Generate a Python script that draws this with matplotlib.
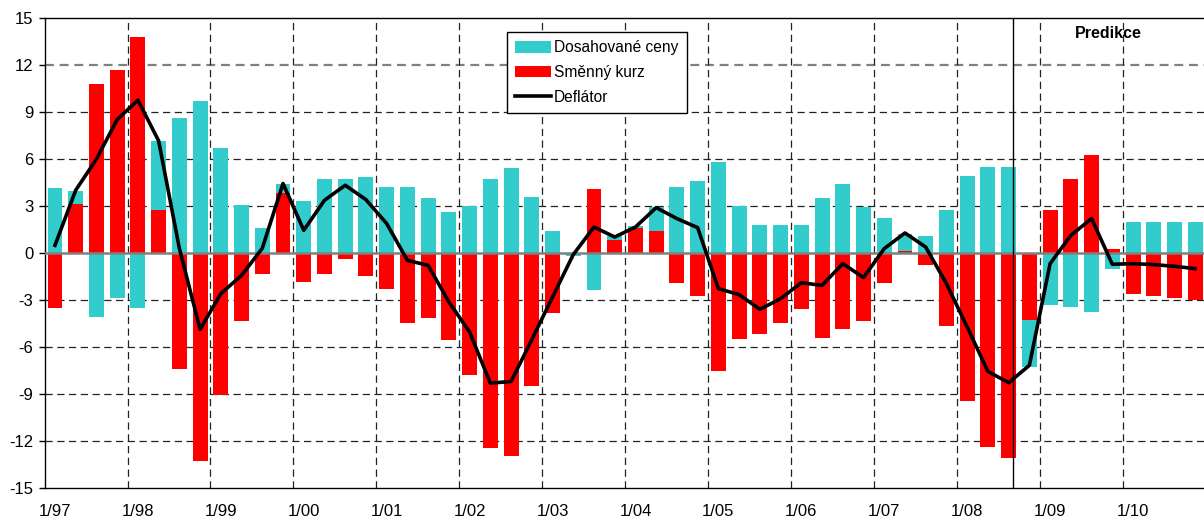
import matplotlib
matplotlib.use("Agg")
import matplotlib.pyplot as plt
import numpy as np

plt.rcParams['font.family'] = ['Liberation Sans', 'DejaVu Sans']
plt.rcParams['axes.unicode_minus'] = False

# quarterly contributions 1/97 .. 4/10
dosahovane = [4.14, 0.81, -4.09, -2.88, -3.52, 4.42, 8.62, 9.71,
              6.70, 3.05, 1.58, 0.57, 3.31, 4.72, 4.72, 4.84,
              4.20, 4.20, 3.50, 2.60, 2.99, 4.72, 5.42, 3.56,
              1.39, -0.19, -2.37, 0.23, 0.15, 1.53, 4.20, 4.59,
              5.80, 2.99, 1.77, 1.77, 1.77, 3.50, 4.39, 2.92,
              2.22, 1.11, 1.07, 2.73, 4.91, 5.48, 5.48, -3.02,
              -3.33, -3.45, -3.77, -1.02, 1.96, 1.96, 1.96, 1.96]
smenny_kurz = [-3.52, 3.14, 10.79, 11.69, 13.80, 2.73, -7.42, -13.31,
               -9.08, -4.35, -1.34, 3.84, -1.86, -1.36, -0.40, -1.47,
               -2.30, -4.48, -4.16, -5.57, -7.82, -12.47, -12.99, -8.51,
               -3.84, 0.0, 4.08, 0.86, 1.58, 1.41, -1.92, -2.75,
               -7.55, -5.52, -5.18, -4.48, -3.58, -5.46, -4.88, -4.35,
               -1.92, 0.13, -0.77, -4.69, -9.49, -12.43, -13.07, -4.29,
               2.73, 4.72, 6.25, 0.24, -2.62, -2.75, -2.88, -3.01]
deflator = [0.49, 4.01, 6.0, 8.53, 9.77, 7.17, 0.3, -4.88,
            -2.6, -1.43, 0.3, 4.44, 1.45, 3.37, 4.33, 3.41,
            1.88, -0.47, -0.79, -3.13, -5.05, -8.32, -8.21, -5.54,
            -2.81, -0.1, 1.66, 1.02, 1.66, 2.9, 2.2, 1.62,
            -2.28, -2.66, -3.6, -2.92, -1.9, -2.07, -0.68, -1.57,
            0.28, 1.28, 0.38, -1.96, -4.73, -7.57, -8.29, -7.18,
            -0.68, 1.13, 2.2, -0.72, -0.68, -0.74, -0.85, -1.0]
years = ['97', '98', '99', '00', '01', '02', '03', '04', '05', '06', '07', '08', '09', '10']
tick_labels = ['1/' + y for y in years]

cyan = '#33CCCC'
red = '#FF0000'

x = np.arange(len(deflator))
dc = np.array(dosahovane)
sk = np.array(smenny_kurz)

fig = plt.figure(figsize=(12.04, 5.2), dpi=100)
ax = fig.add_axes([44.6 / 1204, 32.3 / 520, 1161 / 1204, 469.4 / 520])

# red at the base, cyan stacked on top (same sign)
cyan_bottom = np.where(np.sign(dc) == np.sign(sk), sk, 0)
b_red = ax.bar(x, sk, width=0.72, color=red, zorder=2)
b_cyan = ax.bar(x, dc, width=0.72, bottom=cyan_bottom, color=cyan, zorder=2)
ln, = ax.plot(x, deflator, color='black', lw=2.6, zorder=4)

ax.set_xlim(-0.5, len(deflator) - 0.5)
ax.set_ylim(-15, 15)

dash = (0, (5.8, 3.6))
for yv in range(-12, 13, 3):
    if yv == 0:
        continue
    if yv == 12:
        ax.axhline(yv, color='#808080', lw=1.6, ls=(0, (4.0, 2.6)), zorder=1)
    else:
        ax.axhline(yv, color='#222222', lw=0.9, ls=dash, zorder=1)
for k in range(1, len(years)):
    ax.axvline(4 * k - 0.5, color='#222222', lw=0.9, ls=dash, zorder=1)
ax.axhline(0, color='#808080', lw=1.8, zorder=3)

# prediction boundary
ax.axvline(46.2, color='black', lw=1.0, zorder=5)
ax.text(50.8, 14.0, 'Predikce', fontsize=11.5, fontweight='bold', ha='center', va='center')

ax.set_yticks(range(-15, 16, 3))
ax.set_xticks(x[::4])
ax.set_xticklabels(tick_labels)
ax.tick_params(axis='y', labelsize=12, length=4, width=1, pad=4, direction='out')
ax.tick_params(axis='x', labelsize=12, length=0, pad=12)
for s in ['left', 'bottom', 'top']:
    ax.spines[s].set_color('black')
    ax.spines[s].set_linewidth(1.0)
ax.spines['right'].set_visible(False)

leg = ax.legend([b_cyan, b_red, ln], ['Dosahované ceny', 'Směnný kurz', 'Deflátor'],
                loc='upper left', bbox_to_anchor=(506.7 / 1204, 1 - 31.7 / 520),
                bbox_transform=fig.transFigure, borderaxespad=0, fontsize=11.2,
                frameon=True, fancybox=False, edgecolor='black', framealpha=1,
                handlelength=2.3, handleheight=0.8, handletextpad=0.18,
                labelspacing=0.62, borderpad=0.55)
leg.get_frame().set_linewidth(1.0)
leg.set_zorder(6)

fig.savefig('out.png', dpi=100)
